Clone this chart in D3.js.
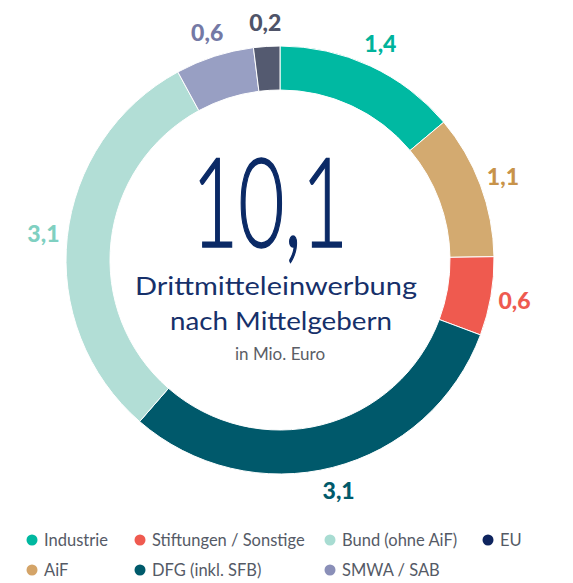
<!DOCTYPE html>
<html>
<head>
<meta charset="utf-8">
<script src="https://cdn.jsdelivr.net/npm/d3@7"></script>
<style>
  body { margin: 0; background: #fff; }
  svg { display: block; font-family: Lato, "Open Sans", sans-serif; }
</style>
</head>
<body>
<div id="chart-area"></div>
<script>
// DATA
var categories = ["Industrie", "AiF", "Stiftungen / Sonstige", "DFG (inkl. SFB)", "Bund (ohne AiF)", "SMWA / SAB", "EU"];
var values = [1.4, 1.1, 0.6, 3.1, 3.1, 0.6, 0.2];
var total = "10,1";

var sliceColors = ["#00b9a2", "#d3aa70", "#ef5a4f", "#00596b", "#b2ded6", "#989fc3", "#545a70"];
var labelColors = ["#00b39b", "#c8934a", "#ee5a50", "#005a6b", "#7fd0c1", "#7479a5", "#4f5468"];
var legendColors = ["#00b8a0", "#d4a468", "#ef5a50", "#005a6b", "#a8dcd2", "#8a8fb8", "#0e245e"];

var width = 573, height = 583;
var cx = 280, cy = 260;
var outerR = 214, innerR = 170, labelR = 238;

var svg = d3.select("#chart-area")
    .append("svg")
    .attr("width", width)
    .attr("height", height);

var g = svg.append("g")
    .attr("transform", "translate(" + cx + "," + cy + ")");

var data = categories.map(function (c, i) {
    return { name: c, value: values[i], i: i };
});

var pie = d3.pie()
    .sort(null)
    .value(function (d) { return d.value; });

var arc = d3.arc()
    .innerRadius(innerR)
    .outerRadius(outerR);

var arcs = pie(data);

// SLICES
g.selectAll("path.slice")
    .data(arcs)
    .enter()
    .append("path")
    .attr("class", "slice")
    .attr("d", arc)
    .attr("fill", function (d) { return sliceColors[d.data.i]; })
    .attr("stroke", "#fff")
    .attr("stroke-width", 1);

// VALUE LABELS
var fmt = function (v) { return d3.format(".1f")(v).replace(".", ","); };

g.selectAll("text.val")
    .data(arcs)
    .enter()
    .append("text")
    .attr("class", "val")
    .attr("x", function (d) { return labelR * Math.sin((d.startAngle + d.endAngle) / 2); })
    .attr("y", function (d) { return -labelR * Math.cos((d.startAngle + d.endAngle) / 2); })
    .attr("dy", "0.35em")
    .attr("text-anchor", "middle")
    .attr("font-size", "23px")
    .attr("font-weight", 900)
    .attr("fill", function (d) { return labelColors[d.data.i]; })
    .text(function (d) { return fmt(d.data.value); });

// CENTER TEXT
g.append("text")
    .attr("x", -10)
    .attr("y", -13)
    .attr("text-anchor", "middle")
    .attr("font-size", "124px")
    .attr("font-weight", 300)
    .attr("fill", "#0b2a66")
    .attr("stroke", "#0b2a66")
    .attr("stroke-width", 1.6)
    .attr("textLength", 156)
    .attr("lengthAdjust", "spacingAndGlyphs")
    .text(total);

g.append("text")
    .attr("x", -4)
    .attr("y", 35)
    .attr("text-anchor", "middle")
    .attr("font-size", "25px")
    .attr("fill", "#16306a")
    .attr("textLength", 282)
    .attr("lengthAdjust", "spacingAndGlyphs")
    .text("Drittmitteleinwerbung");

g.append("text")
    .attr("x", 1)
    .attr("y", 70)
    .attr("text-anchor", "middle")
    .attr("font-size", "25px")
    .attr("fill", "#16306a")
    .attr("textLength", 222)
    .attr("lengthAdjust", "spacingAndGlyphs")
    .text("nach Mittelgebern");

g.append("text")
    .attr("x", 0)
    .attr("y", 100)
    .attr("text-anchor", "middle")
    .attr("font-size", "17px")
    .attr("fill", "#5b5e66")
    .text("in Mio. Euro");

// LEGEND
var colX = [32, 140, 330, 488];
var rowY = [540, 570];

var legend = svg.selectAll("g.legend")
    .data(data)
    .enter()
    .append("g")
    .attr("class", "legend")
    .attr("transform", function (d) {
        return "translate(" + colX[Math.floor(d.i / 2)] + "," + rowY[d.i % 2] + ")";
    });

legend.append("circle")
    .attr("r", 5.5)
    .attr("fill", function (d) { return legendColors[d.i]; });

legend.append("text")
    .attr("x", 12)
    .attr("dy", "0.35em")
    .attr("font-size", "16.5px")
    .attr("fill", "#555a66")
    .text(function (d) { return d.name; });
</script>
</body>
</html>
